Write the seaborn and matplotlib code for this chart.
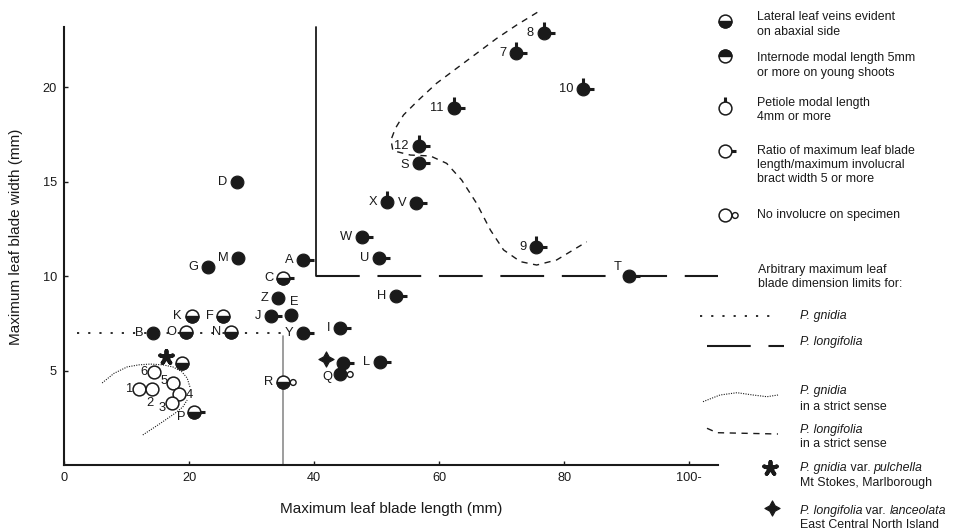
import matplotlib
matplotlib.use("Agg")
import pandas as pd
import seaborn as sns
from matplotlib import pyplot as plt
from matplotlib.path import Path

# ---------- dados dos espécimes ----------
labels = ["D", "M", "G", "A", "C", "Z", "E", "J", "K", "F", "B", "O", "N", "Y", "I", "",
          "6", "1", "2", "5", "4", "3", "P", "R", "", "Q", "L", "H", "U", "W", "X", "V", "S",
          "12", "11", "7", "8", "10", "9", "T"]
blade_len = [27.7, 27.9, 23.0, 38.2, 35.1, 34.2, 36.3, 33.1, 20.4, 25.5, 14.2, 19.5, 26.7, 38.3, 44.2, 18.8,
             14.4, 12.05, 14.0, 17.5, 18.4, 17.2, 20.8, 35.1, 44.6, 44.2, 50.5, 53.1, 50.4, 47.7, 51.6, 56.3, 56.7,
             56.7, 62.3, 72.3, 76.7, 83.0, 75.5, 90.3]
blade_wid = [15.0, 10.94, 10.5, 10.85, 9.88, 8.82, 7.94, 7.88, 7.88, 7.88, 7.0, 7.05, 7.05, 6.97, 7.27, 5.38,
             4.9, 4.0, 4.0, 4.35, 3.76, 3.26, 2.8, 4.41, 5.38, 4.81, 5.47, 8.94, 10.93, 12.08, 13.93, 13.84, 16.0,
             16.88, 18.87, 21.78, 22.84, 19.88, 11.55, 10.02]
# F = veias + internódio, H = só veias laterais, O = nenhum
fill = ["F", "F", "F", "F", "H", "F", "F", "F", "H", "H", "F", "H", "H", "F", "F", "H",
        "O", "O", "O", "O", "O", "O", "H", "H", "F", "F", "F", "F", "F", "F", "F", "F", "F",
        "F", "F", "F", "F", "F", "F", "F"]
petiole = [0, 0, 0, 0, 0, 0, 0, 0, 0, 0, 0, 0, 0, 0, 0, 0,
           0, 0, 0, 0, 0, 0, 0, 0, 0, 0, 0, 0, 0, 0, 1, 0, 0,
           1, 1, 1, 1, 1, 1, 0]
ratio = [0, 0, 0, 1, 1, 0, 0, 1, 0, 0, 0, 0, 0, 1, 1, 0,
         0, 0, 0, 0, 0, 0, 1, 0, 1, 0, 1, 1, 1, 1, 0, 1, 1,
         1, 1, 1, 1, 1, 1, 1]
no_invol = [0, 0, 0, 0, 0, 0, 0, 0, 0, 0, 0, 0, 0, 0, 0, 0,
            0, 0, 0, 0, 0, 0, 0, 1, 0, 1, 0, 0, 0, 0, 0, 0, 0,
            0, 0, 0, 0, 0, 0, 0]

# variedades especiais
pulchella_x, pulchella_y = [16.3], [5.7]
lanceolata_x, lanceolata_y = [41.9], [5.6]

# limites arbitrários
gnidia_lim_x, gnidia_lim_y = [2.1, 35.0], [7.0, 7.0]
gnidia_vert_x, gnidia_vert_y = [35.0, 35.0], [0.0, 6.8]
longi_vert_x, longi_vert_y = [40.3, 40.3], [10.0, 23.2]
longi_lim_x, longi_lim_y = [40.3, 104.6], [10.0, 10.0]

# curvas "strict sense"
gnidia_arc_x = [6.1, 8.0, 10.1, 12.0, 13.8, 15.8, 17.4, 18.8, 19.7, 20.2]
gnidia_arc_y = [4.34, 4.85, 5.19, 5.3, 5.34, 5.3, 5.19, 4.95, 4.6, 4.07]
gnidia_low_x = [12.6, 14.4, 16.2, 17.8, 19.0, 19.7]
gnidia_low_y = [1.59, 1.98, 2.38, 2.75, 3.07, 3.44]
longi_curve_x = [75.7, 72.4, 69.2, 66.0, 62.8, 59.6, 56.7, 54.3, 53.0, 52.3, 52.6, 55.4, 58.6,
                 61.2, 63.6, 66.0, 68.2, 70.3, 73.0, 75.6, 78.8, 83.6]
longi_curve_y = [23.95, 23.28, 22.57, 21.78, 20.99, 20.2, 19.31, 18.52, 17.81, 17.2, 16.63, 16.4, 16.35,
                 15.96, 15.08, 13.84, 12.43, 11.38, 10.76, 10.58, 10.85, 11.81]

x_ticks = [0, 20, 40, 60, 80, 100]
x_ticklabels = ["0", "20", "40", "60", "80", "100-"]
y_ticks = [5, 10, 15, 20]

sns.set_style("ticks")
plt.rcParams["font.family"] = ["Liberation Sans", "DejaVu Sans"]

INK = "#1a1a1a"
HALF_LOW = Path.wedge(180, 360)
HALF_UP = Path.wedge(0, 180)
STALK_R = Path([(0, 0), (1, 0)], [Path.MOVETO, Path.LINETO])
STALK_U = Path([(0, 0), (0, 1)], [Path.MOVETO, Path.LINETO])
RING = Path.circle(center=(1.0, 0.0), radius=0.3)
DOT_S = 85


def draw_marks(axis, d):
    # pecíolo e razão: traços por baixo do círculo
    sub = d[d.ratio == 1]
    if len(sub):
        sns.scatterplot(data=sub, x="x", y="y", marker=STALK_R, s=240, color=INK, edgecolor=INK,
                        linewidth=2.2, ax=axis, zorder=2, legend=False)
    sub = d[d.petiole == 1]
    if len(sub):
        sns.scatterplot(data=sub, x="x", y="y", marker=STALK_U, s=250, color=INK, edgecolor=INK,
                        linewidth=2.2, ax=axis, zorder=2, legend=False)
    sub = d[d.noinv == 1]
    if len(sub):
        sns.scatterplot(data=sub, x="x", y="y", marker=RING, s=330, color="white", edgecolor=INK,
                        linewidth=1.0, ax=axis, zorder=2, legend=False)
    sub = d[d.fill == "F"]
    if len(sub):
        sns.scatterplot(data=sub, x="x", y="y", marker="o", s=DOT_S, color=INK, edgecolor=INK,
                        linewidth=0.8, ax=axis, zorder=3, legend=False)
    sub = d[d.fill != "F"]
    if len(sub):
        sns.scatterplot(data=sub, x="x", y="y", marker="o", s=DOT_S, color="white", edgecolor=INK,
                        linewidth=1.1, ax=axis, zorder=3, legend=False)
    for code, wedge in [("H", HALF_LOW), ("U", HALF_UP)]:
        sub = d[d.fill == code]
        if len(sub):
            sns.scatterplot(data=sub, x="x", y="y", marker=wedge, s=DOT_S, color=INK, edgecolor=INK,
                            linewidth=1.0, ax=axis, zorder=4, legend=False)


df = pd.DataFrame({"label": labels, "x": blade_len, "y": blade_wid, "fill": fill,
                   "petiole": petiole, "ratio": ratio, "noinv": no_invol})

fig = plt.figure(figsize=(9.68, 5.32), dpi=100)
ax = fig.add_axes([64 / 968, 67 / 532, 654 / 968, 457 / 532])

# ---------- linhas de limite ----------
dotted = (0, (1.2, 5))
ax.plot(gnidia_lim_x, gnidia_lim_y, color=INK, lw=1.3, linestyle=dotted, zorder=1)
ax.plot(gnidia_vert_x, gnidia_vert_y, color="#8c8c8c", lw=1.2, zorder=1)
ax.plot(longi_vert_x, longi_vert_y, color=INK, lw=1.3, zorder=1)
longdash = (0, (21, 8.5))
ax.plot(longi_lim_x, longi_lim_y, color=INK, lw=1.5, linestyle=longdash, zorder=1)
finedot = (0, (1, 1.2))
ax.plot(gnidia_arc_x, gnidia_arc_y, color=INK, lw=0.8, linestyle=finedot, zorder=1)
ax.plot(gnidia_low_x, gnidia_low_y, color=INK, lw=0.8, linestyle=finedot, zorder=1)
shortdash = (0, (4.5, 4))
ax.plot(longi_curve_x, longi_curve_y, color=INK, lw=1.0, linestyle=shortdash, zorder=1)

# ---------- espécimes ----------
STAR = (5, 2, 0)
CROSS = (4, 1, 0)
draw_marks(ax, df)
sns.scatterplot(x=pulchella_x, y=pulchella_y, marker=STAR, s=90, color=INK, edgecolor=INK,
                linewidth=2.8, ax=ax, zorder=3, legend=False)
sns.scatterplot(x=lanceolata_x, y=lanceolata_y, marker=CROSS, s=120, color=INK, edgecolor=INK,
                linewidth=0.8, ax=ax, zorder=3, legend=False)

# rótulos dos pontos
special = {"E": (-1, 9, "left"), "2": (-1, -10, "center"), "4": (4.5, -0.5, "left"),
           "3": (-4.3, -3, "right"), "P": (-6.5, -3.5, "right"), "Q": (-6, -2, "right"),
           "T": (-5, 6, "right"), "6": (-5, 0, "right"), "1": (-4.5, 0, "right"),
           "5": (-4, 1, "right"), "S": (-7, -1.5, "right")}
for lab, xx, yy in zip(labels, blade_len, blade_wid):
    if not lab:
        continue
    dx, dy, ha = special.get(lab, (-7, 0, "right"))
    ax.annotate(lab, (xx, yy), xytext=(dx, dy), textcoords="offset points",
                ha=ha, va="center", fontsize=9.3, color=INK)

ax.set_xlim(0, 104.6)
ax.set_ylim(0, 24.18)
ax.set_xticks(x_ticks)
ax.set_xticklabels(x_ticklabels)
ax.set_yticks(y_ticks)
ax.tick_params(direction="in", length=3, width=1, labelsize=9.2, colors=INK, pad=5)
for side in ["top", "right"]:
    ax.spines[side].set_visible(False)
for side in ["left", "bottom"]:
    ax.spines[side].set_linewidth(1.5)
    ax.spines[side].set_color(INK)
ax.spines["left"].set_bounds(0, 23.2)
ax.set_xlabel("Maximum leaf blade length (mm)", fontsize=11, color=INK, labelpad=13)
ax.set_ylabel("Maximum leaf blade width (mm)", fontsize=11, color=INK, labelpad=14)
ax.patch.set_alpha(0)

# ---------- legenda (coordenadas em pixels da figura) ----------
lax = fig.add_axes([0, 0, 1, 1])
lax.patch.set_visible(False)
leg = pd.DataFrame({"x": [725, 725, 725, 725, 725], "y": [21, 56, 108, 151, 215],
                    "fill": ["H", "U", "O", "O", "O"], "petiole": [0, 0, 1, 0, 0],
                    "ratio": [0, 0, 0, 1, 0], "noinv": [0, 0, 0, 0, 1]})
draw_marks(lax, leg)

lax.plot([700, 778], [316, 316], color=INK, lw=1.3, linestyle=dotted)
lax.plot([707, 784], [346, 346], color=INK, lw=1.5, linestyle=longdash)
lax.plot([703, 720, 737, 753, 767, 778], [401.7, 395, 392.7, 395, 396.7, 395], color=INK, lw=0.8,
         linestyle=finedot)
lax.plot([707, 717, 778], [428.3, 432.7, 434], color=INK, lw=1.0, linestyle=shortdash)
lax.scatter([770], [468], marker=STAR, s=90, color=INK, linewidth=2.8)
lax.scatter([772], [508], marker=CROSS, s=120, color=INK, linewidth=0.8)

LEG_FS = 8.9
leg_text = [
    (757, 16.7, "Lateral leaf veins evident", "normal"), (757, 31.7, "on abaxial side", "normal"),
    (757, 58.3, "Internode modal length 5mm", "normal"), (757, 72.7, "or more on young shoots", "normal"),
    (757, 102.7, "Petiole modal length", "normal"), (757, 117.3, "4mm or more", "normal"),
    (757, 150.7, "Ratio of maximum leaf blade", "normal"), (757, 165, "length/maximum involucral", "normal"),
    (757, 179, "bract width 5 or more", "normal"),
    (757, 215, "No involucre on specimen", "normal"),
    (758, 270, "Arbitrary maximum leaf", "normal"), (758, 284, "blade dimension limits for:", "normal"),
    (800, 316, "P. gnidia", "italic"),
    (800, 341.7, "P. longifolia", "italic"),
    (800, 390.7, "P. gnidia", "italic"), (800, 406.7, "in a strict sense", "normal"),
    (800, 430, "P. longifolia", "italic"), (800, 444.3, "in a strict sense", "normal"),
    (800, 482.7, "Mt Stokes, Marlborough", "normal"),
    (800, 525, "East Central North Island", "normal"),
]
for tx, ty, s, st in leg_text:
    lax.text(tx, ty, s, ha="left", va="center", fontsize=LEG_FS, style=st, color=INK)

# linhas com itálico misturado: peças encadeadas
mixed = [
    (800, 468.3, [("P. gnidia", "italic"), (" var. ", "normal"), ("pulchella", "italic")]),
    (800, 510.7, [("P. longifolia", "italic"), (" var. ", "normal"), ("lanceolata", "italic")]),
]
for tx, ty, pieces in mixed:
    prev = lax.text(tx, ty, pieces[0][0], ha="left", va="center", fontsize=LEG_FS,
                    style=pieces[0][1], color=INK)
    for s, st in pieces[1:]:
        prev = lax.annotate(s, xy=(1, 0), xycoords=prev, ha="left", va="bottom",
                            fontsize=LEG_FS, style=st, color=INK)

lax.set_xlim(0, 968)
lax.set_ylim(532, 0)
lax.axis("off")

fig.savefig("out.png", dpi=100)
